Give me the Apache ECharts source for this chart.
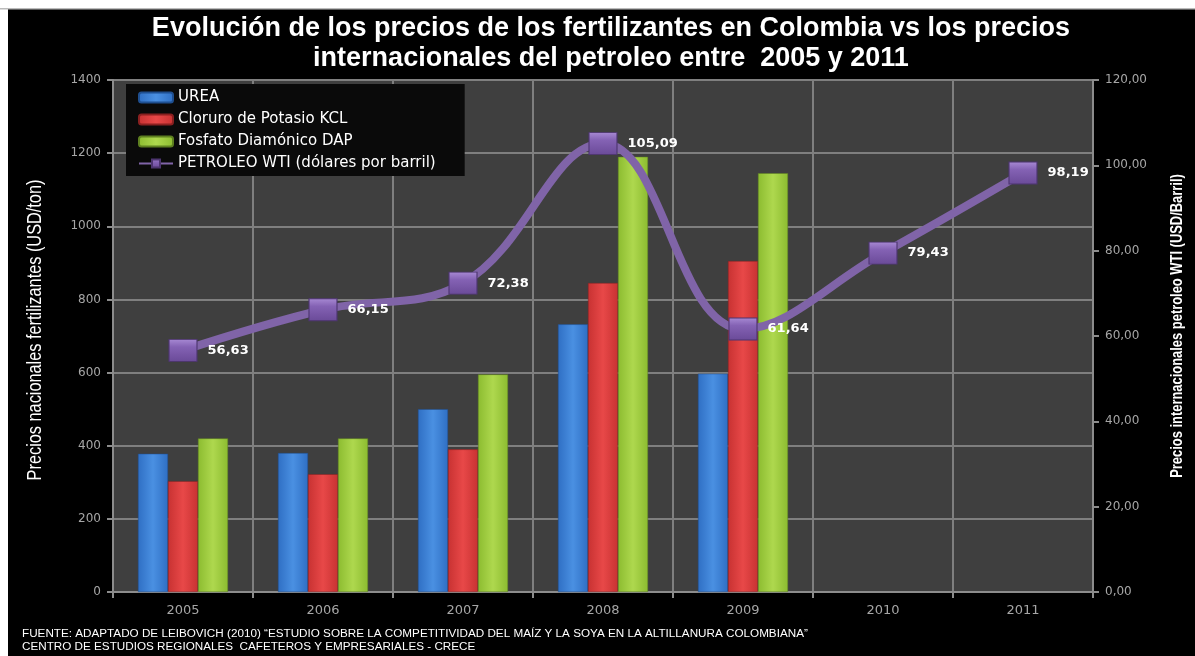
<!DOCTYPE html>
<html><head><meta charset="utf-8">
<script src="https://cdn.jsdelivr.net/npm/echarts@6/dist/echarts.min.js"></script>
<style>html,body{margin:0;padding:0;background:#fff}#c{width:1195px;height:656px}</style>
</head><body><div id="c"></div>
<script>
const categories = ['2005','2006','2007','2008','2009','2010','2011'];
const urea = [378, 380, 500, 732, 597, null, null];
const kcl = [303, 322, 390, 845, 905, null, null];
const dap = [420, 420, 595, 1190, 1145, null, null];
const wti = [56.63, 66.15, 72.38, 105.09, 61.64, 79.43, 98.19];
const seriesNames = ['UREA', 'Cloruro de Potasio KCL', 'Fosfato Diamónico DAP', 'PETROLEO WTI (dólares por barril)'];
const titleLines = ['Evolución de los precios de los fertilizantes en Colombia vs los precios', 'internacionales del petroleo entre  2005 y 2011'];
const leftAxisName = 'Precios nacionales fertilizantes (USD/ton)';
const rightAxisName = 'Precios internacionales petroleo WTI (USD/Barril)';
const sourceLines = ['FUENTE: ADAPTADO DE LEIBOVICH (2010) “ESTUDIO SOBRE LA COMPETITIVIDAD DEL MAÍZ Y LA SOYA EN LA ALTILLANURA COLOMBIANA”', 'CENTRO DE ESTUDIOS REGIONALES  CAFETEROS Y EMPRESARIALES - CRECE'];

function grad(c1, c2, c3) {
  return new echarts.graphic.LinearGradient(0, 0, 1, 0, [
    {offset: 0, color: c1}, {offset: 0.5, color: c2}, {offset: 1, color: c3}]);
}
const chart = echarts.init(document.getElementById('c'), null, {renderer: 'canvas'});
const fmt = v => v.toFixed(2).replace('.', ',');
const option = {
  backgroundColor: '#000',
  animation: false,
  grid: {left: 113, right: 102, top: 80, bottom: 64, show: true, backgroundColor: '#3f3f3f', borderWidth: 0},
  legend: {
    orient: 'vertical', left: 126, top: 84, itemGap: 7, itemWidth: 34, itemHeight: 10,
    backgroundColor: '#0a0a0a', padding: [6, 29, 5, 12],
    textStyle: {color: '#fff', fontSize: 15, fontFamily: 'DejaVu Sans'},
    data: seriesNames
  },
  xAxis: {
    type: 'category', data: categories,
    axisLine: {lineStyle: {color: '#8c8c8c', width: 2}},
    axisTick: {show: true, length: 6, lineStyle: {color: '#8c8c8c', width: 2}},
    axisLabel: {color: '#a6a6a6', fontSize: 13, fontFamily: 'DejaVu Sans', margin: 12},
    splitLine: {show: true, lineStyle: {color: '#7f7f7f', width: 2}}
  },
  yAxis: [{
    type: 'value', min: 0, max: 1400, interval: 200,
    axisLine: {show: true, lineStyle: {color: '#8c8c8c', width: 2}},
    axisTick: {show: true, length: 6, lineStyle: {color: '#8c8c8c', width: 2}},
    axisLabel: {color: '#a6a6a6', fontSize: 12, fontFamily: 'DejaVu Sans', margin: 12, formatter: v => String(v)},
    splitLine: {show: true, lineStyle: {color: '#7f7f7f', width: 2}}
  }, {
    type: 'value', min: 0, max: 120, interval: 20, position: 'right',
    axisLine: {show: true, lineStyle: {color: '#8c8c8c', width: 2}},
    axisTick: {show: true, length: 6, lineStyle: {color: '#8c8c8c', width: 2}},
    axisLabel: {color: '#a6a6a6', fontSize: 12, fontFamily: 'DejaVu Sans', margin: 12, formatter: fmt},
    splitLine: {show: false}
  }],
  series: [
    {name: seriesNames[0], type: 'bar', data: urea, barWidth: 30, barGap: '0%',
     itemStyle: {color: grad('#2f6fc4', '#4a90e2', '#2f6fc4'), borderColor: '#1f4f90', borderWidth: 0.5}},
    {name: seriesNames[1], type: 'bar', data: kcl, barWidth: 30, barGap: '0%',
     itemStyle: {color: grad('#c83232', '#e84848', '#c83232'), borderColor: '#8a2020', borderWidth: 0.5}},
    {name: seriesNames[2], type: 'bar', data: dap, barWidth: 30, barGap: '0%',
     itemStyle: {color: grad('#8cbc30', '#aed84e', '#8cbc30'), borderColor: '#5e8020', borderWidth: 0.5}},
    {name: seriesNames[3], type: 'line', yAxisIndex: 1, data: wti, smooth: 0.4,
     symbol: 'rect', symbolSize: [28, 22],
     lineStyle: {color: '#8064a8', width: 8},
     itemStyle: {color: new echarts.graphic.LinearGradient(0, 0, 0, 1, [{offset: 0, color: '#a88ad4'}, {offset: 0.35, color: '#8462b4'}, {offset: 1, color: '#6a4a98'}]), borderColor: '#4d3570', borderWidth: 1},
     label: {show: true, position: 'right', distance: 10, color: '#fff', fontSize: 13, fontWeight: 'bold', fontFamily: 'DejaVu Sans', formatter: p => fmt(p.value)},
     z: 5}
  ],
  graphic: [
    {type: 'rect', shape: {x: 0, y: 0, width: 1195, height: 9}, style: {fill: '#fff'}, silent: true},
    {type: 'rect', shape: {x: 0, y: 0, width: 8, height: 656}, style: {fill: '#fff'}, silent: true},
    {type: 'rect', shape: {x: 0, y: 8, width: 1195, height: 1.5}, style: {fill: '#bbb'}, silent: true},
    {type: 'text', x: 611, y: 29, style: {text: titleLines[0], fill: '#fff', font: 'bold 27px "Liberation Sans", sans-serif', textAlign: 'center', textVerticalAlign: 'middle'}},
    {type: 'text', x: 611, y: 59, style: {text: titleLines[1], fill: '#fff', font: 'bold 27px "Liberation Sans", sans-serif', textAlign: 'center', textVerticalAlign: 'middle'}},
    {type: 'text', x: 35, y: 330, rotation: Math.PI / 2, scaleX: 0.815, style: {text: leftAxisName, fill: '#fff', font: '20px "Liberation Sans", sans-serif', textAlign: 'center', textVerticalAlign: 'middle'}},
    {type: 'text', x: 1177, y: 326, rotation: Math.PI / 2, scaleX: 0.76, style: {text: rightAxisName, fill: '#fff', font: 'bold 17px "Liberation Sans", sans-serif', textAlign: 'center', textVerticalAlign: 'middle'}},
    {type: 'text', x: 22, y: 634, style: {text: sourceLines[0], fill: '#fff', font: '11.7px "Liberation Sans", sans-serif', textAlign: 'left', textVerticalAlign: 'middle'}},
    {type: 'text', x: 22, y: 647, style: {text: sourceLines[1], fill: '#fff', font: '11.7px "Liberation Sans", sans-serif', textAlign: 'left', textVerticalAlign: 'middle'}}
  ]
};
chart.setOption(option);
</script></body></html>
